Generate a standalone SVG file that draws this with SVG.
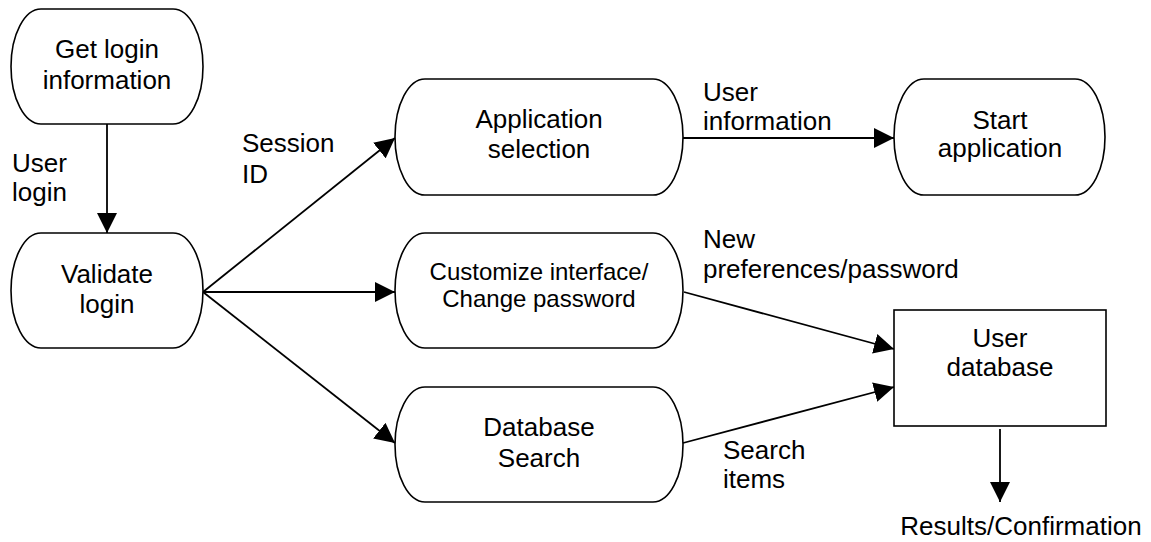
<svg xmlns="http://www.w3.org/2000/svg" width="1151" height="542" viewBox="0 0 1151 542">
  <style>
    .shape { fill: #ffffff; stroke: #000000; stroke-width: 1.6; }
    .flow { fill: none; stroke: #000000; stroke-width: 1.8; }
    text { font-family: "Liberation Sans", Arial, sans-serif; font-size: 26px; fill: #000000; }
    .c { text-anchor: middle; }
    .small { font-size: 24px; }
  </style>
  <defs>
    <marker id="arrow" markerUnits="userSpaceOnUse" markerWidth="20" markerHeight="20" refX="20" refY="10" orient="auto">
      <path d="M0,0 L20,10 L0,20 Z" fill="#000000"/>
    </marker>
  </defs>
  <rect width="1151" height="542" fill="#ffffff"/>

  <!-- connectors -->
  <g id="connectors">
    <line class="flow" x1="107" y1="117" x2="107" y2="233" marker-end="url(#arrow)"/>
    <line class="flow" x1="203" y1="292" x2="395" y2="138" marker-end="url(#arrow)"/>
    <line class="flow" x1="203" y1="292" x2="395" y2="292" marker-end="url(#arrow)"/>
    <line class="flow" x1="203" y1="292" x2="395" y2="443" marker-end="url(#arrow)"/>
    <line class="flow" x1="683" y1="138" x2="894" y2="138" marker-end="url(#arrow)"/>
    <line class="flow" x1="684" y1="292" x2="894" y2="349" marker-end="url(#arrow)"/>
    <line class="flow" x1="683" y1="443" x2="894" y2="387" marker-end="url(#arrow)"/>
    <line class="flow" x1="1000" y1="429" x2="1000" y2="502" marker-end="url(#arrow)"/>
    <text x="12" y="172">User</text>
    <text x="12" y="201">login</text>
    <text x="242" y="152">Session</text>
    <text x="242" y="183">ID</text>
    <text x="703" y="101">User</text>
    <text x="703" y="130">information</text>
    <text x="703" y="248">New</text>
    <text x="703" y="278">preferences/password</text>
    <text x="723" y="459">Search</text>
    <text x="723" y="488">items</text>
    <text class="c" x="1021" y="535">Results/Confirmation</text>
  </g>

  <g id="get-login">
    <rect class="shape" x="11" y="9" width="192" height="115" rx="30" ry="57.5"/>
    <text class="c" x="107" y="58">Get login</text>
    <text class="c" x="107" y="89">information</text>
  </g>

  <g id="validate-login">
    <rect class="shape" x="11" y="233" width="192" height="115" rx="30" ry="57.5"/>
    <text class="c" x="107" y="283">Validate</text>
    <text class="c" x="107" y="313">login</text>
  </g>

  <g id="application-selection">
    <rect class="shape" x="395" y="79" width="288" height="116" rx="30" ry="58"/>
    <text class="c" x="539" y="128">Application</text>
    <text class="c" x="539" y="158">selection</text>
  </g>

  <g id="customize-interface">
    <rect class="shape" x="395" y="233" width="288" height="115" rx="30" ry="57.5"/>
    <text class="c small" x="539" y="280">Customize interface/</text>
    <text class="c small" x="539" y="307">Change password</text>
  </g>

  <g id="database-search">
    <rect class="shape" x="395" y="387" width="288" height="115" rx="30" ry="57.5"/>
    <text class="c" x="539" y="436">Database</text>
    <text class="c" x="539" y="467">Search</text>
  </g>

  <g id="start-application">
    <rect class="shape" x="894" y="79" width="211" height="116" rx="30" ry="58"/>
    <text class="c" x="1000" y="129">Start</text>
    <text class="c" x="1000" y="157">application</text>
  </g>

  <g id="user-database">
    <rect class="shape" x="894" y="310" width="212" height="116"/>
    <text class="c" x="1000" y="347">User</text>
    <text class="c" x="1000" y="376">database</text>
  </g>
</svg>
